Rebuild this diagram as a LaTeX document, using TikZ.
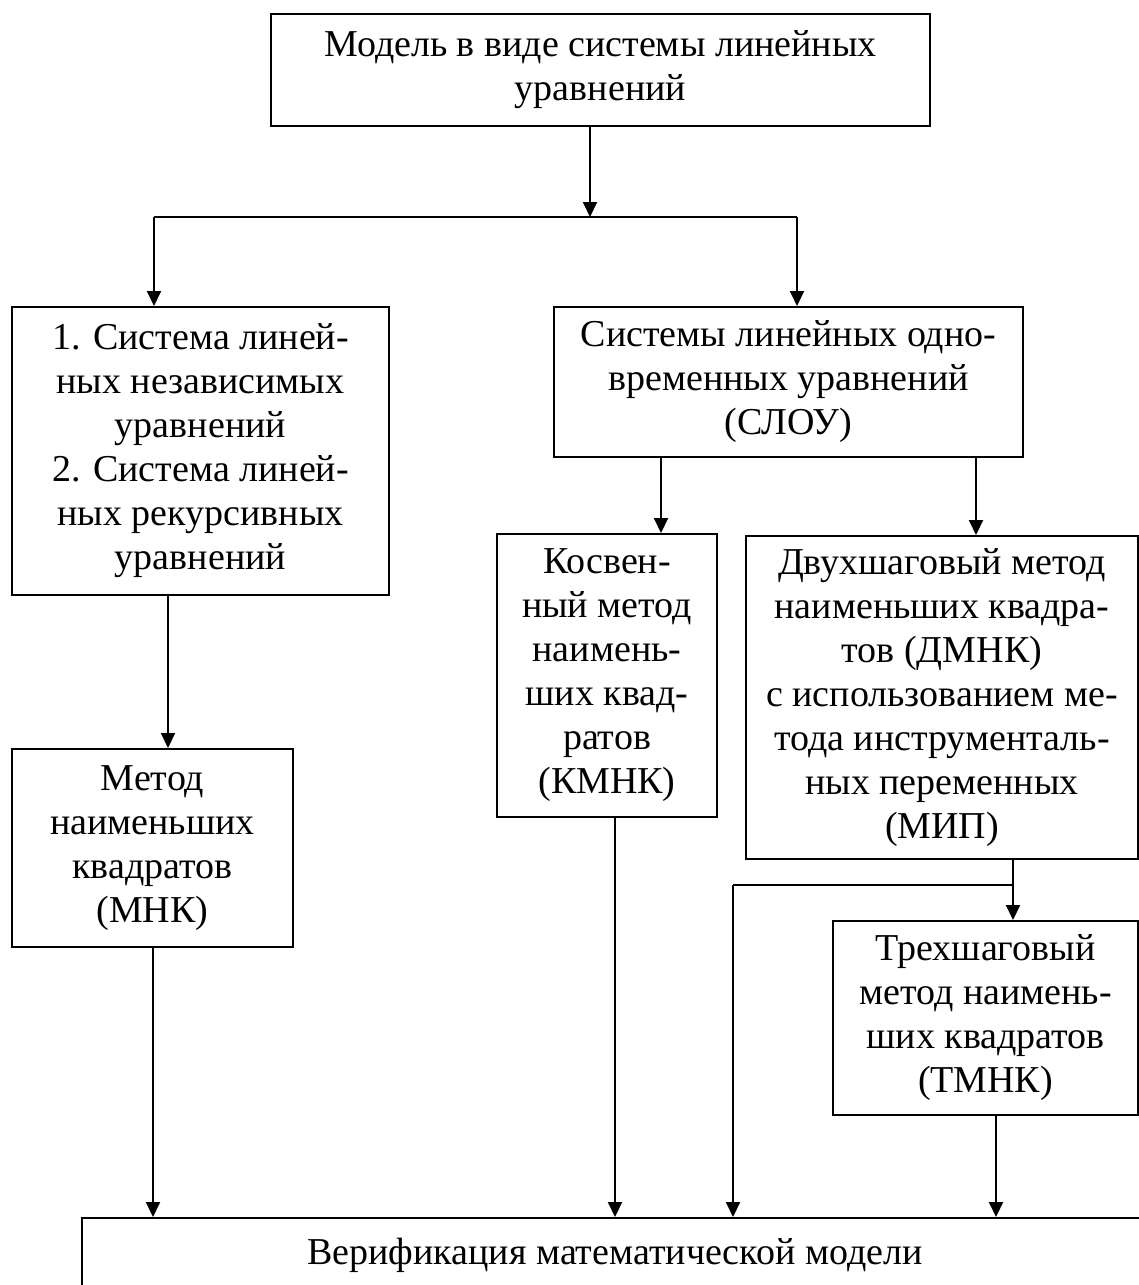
\documentclass[tikz,border=0pt]{standalone}
\usepackage{fontspec}
\setmainfont{Liberation Serif}
\usetikzlibrary{arrows.meta}

\begin{document}
\begin{tikzpicture}[x=0.5pt, y=-0.5pt, line width=1pt,
        >={Triangle[length=7.5pt, width=7pt]}]
        \useasboundingbox (0,0) rectangle (1139,1285);

        \begin{scope}[
            box/.style={draw, rectangle, line width=1pt, align=center, inner sep=2pt,
                font=\fontsize{19pt}{22pt}\selectfont}]
            \node[box, minimum width=329.5pt, minimum height=56pt] (model) at (600.5, 70)
                {Модель в виде системы линейных\\уравнений};
            \node[box, minimum width=188.5pt, minimum height=144pt] (sys) at (200.5, 451)
                {1. Система линей-\\ных независимых\\уравнений\\2. Система линей-\\ных рекурсивных\\уравнений};
            \node[box, minimum width=234.5pt, minimum height=75pt] (sloy) at (788.5, 382)
                {Системы линейных одно-\\временных уравнений\\(СЛОУ)};
            \node[box, minimum width=110pt, minimum height=141.5pt] (kmnk) at (607, 675.5)
                {Косвен-\\ный метод\\наимень-\\ших квад-\\ратов\\(КМНК)};
            \node[box, minimum width=196pt, minimum height=161.5pt] (dmnk) at (942, 697.5)
                {Двухшаговый метод\\наименьших квадра-\\тов (ДМНК)\\с использованием ме-\\тода инструменталь-\\ных переменных\\(МИП)};
            \node[box, minimum width=140.5pt, minimum height=99pt] (mnk) at (152.5, 848)
                {Метод\\наименьших\\квадратов\\(МНК)};
            \node[box, minimum width=152.5pt, minimum height=97pt] (tmnk) at (985.5, 1018)
                {Трехшаговый\\метод наимень-\\ших квадратов\\(ТМНК)};
            \node[box, minimum width=533pt, minimum height=37pt] (verif) at (615, 1255)
                {Верификация математической модели};
        \end{scope}

        % branch points and arrow columns
        \coordinate (split) at (590, 217);
        \coordinate (lsplit) at (154, 217);
        \coordinate (rsplit) at (797, 217);
        \coordinate (c1) at (661, 0);
        \coordinate (c2) at (976, 0);
        \coordinate (c3) at (168, 0);
        \coordinate (c4) at (1013, 0);
        \coordinate (br) at (733, 885);
        \coordinate (d1) at (153, 0);
        \coordinate (d2) at (615, 0);
        \coordinate (d3) at (996, 0);

        \draw[->] (model.south -| split) -- (split);
        \draw (lsplit) -- (rsplit);
        \draw[->] (lsplit) -- (lsplit |- sys.north);
        \draw[->] (rsplit) -- (rsplit |- sloy.north);

        \draw[->] (sloy.south -| c1) -- (kmnk.north -| c1);
        \draw[->] (sloy.south -| c2) -- (dmnk.north -| c2);
        \draw[->] (sys.south -| c3) -- (mnk.north -| c3);

        \draw[->] (dmnk.south -| c4) -- (tmnk.north -| c4);
        \draw (br -| c4) -- (br);
        \draw[->] (br) -- (br |- verif.north);

        \draw[->] (mnk.south -| d1) -- (verif.north -| d1);
        \draw[->] (kmnk.south -| d2) -- (verif.north -| d2);
        \draw[->] (tmnk.south -| d3) -- (verif.north -| d3);

\end{tikzpicture}
\end{document}
